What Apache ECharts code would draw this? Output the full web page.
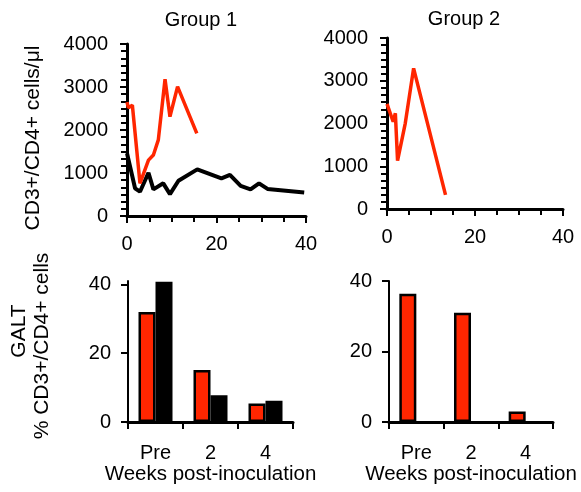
<!DOCTYPE html>
<html>
<head>
<meta charset="utf-8">
<script src="https://cdn.jsdelivr.net/npm/echarts@6/dist/echarts.min.js"></script>
<style>
html, body { margin: 0; padding: 0; background: #fff; }
#wrap { position: relative; width: 581px; height: 492px; }
.panel { position: absolute; left: 0; top: 0; width: 581px; height: 492px; }
</style>
</head>
<body>
<div id="wrap">
  <div id="p1" class="panel"></div>
  <div id="p2" class="panel"></div>
  <div id="p3" class="panel"></div>
  <div id="p4" class="panel"></div>
</div>
<script>
// blood CD4 counts, [week, cells/ul]
const g1RedPts = [[0, 2650], [0.3, 2520], [1.2, 2575], [2.9, 760], [4.8, 1300], [5.9, 1420], [7.0, 1770], [8.5, 3180], [9.6, 2310], [11.3, 3010], [15.6, 1920]];
const g1BlackPts = [[0, 1460], [1.8, 645], [2.9, 565], [4.8, 1005], [5.9, 620], [8.1, 760], [9.6, 510], [11.5, 820], [15.7, 1085], [21.1, 875], [23, 955], [25.4, 700], [27.6, 620], [29.5, 760], [31.4, 630], [39.6, 545]];
const g2RedPts = [[0, 2460], [1.4, 2040], [1.9, 2240], [2.4, 1130], [4.15, 2005], [6.05, 3290], [13.3, 330]];

// GALT %
const barCats = ['Pre', '2', '4'];
const g1RedBars = [32, 15.1, 5.4];
const g1BlackBars = [40.8, 7.8, 6.2];
const g2RedBars = [36.4, 31, 3];
const g2BlackBars = [null, null, null];

const RED = '#ff2600';
const FONT = 'Liberation Sans, Arial, sans-serif';
const FS = 20;

// one instance per panel, stacked over the same area
function axisLine(w) {
    return { show: true, lineStyle: { color: '#000', width: w } };
}
function axisTick() {
    return { show: true, length: 7, lineStyle: { color: '#000', width: 2 } };
}
function minor(n) {
    return { show: true, splitNumber: n, length: 6, lineStyle: { color: '#000', width: 2 } };
}
function label(m) {
    return { color: '#000', fontFamily: FONT, fontSize: FS, margin: m, formatter: (v) => String(v) };
}
// no split lines drawn: keep them but fully transparent
function noSplit() {
    return { lineStyle: { opacity: 0 } };
}
const txt = { color: '#000', fontSize: FS, fontFamily: FONT, fontWeight: 'normal' };

function weekAxis() {
    return {
        type: 'value', min: 0, max: 40, interval: 20,
        axisLine: axisLine(3), axisTick: axisTick(), minorTick: minor(4),
        splitLine: noSplit(),
        axisLabel: label(18)
    };
}
function countAxis() {
    return {
        type: 'value', min: 0, max: 4000, interval: 1000,
        axisLine: axisLine(3), axisTick: axisTick(), minorTick: minor(6),
        splitLine: noSplit(),
        axisLabel: label(19)
    };
}
function catAxis() {
    return {
        type: 'category', data: barCats,
        axisLine: axisLine(3), axisTick: axisTick(),
        axisLabel: { color: '#000', fontFamily: FONT, fontSize: FS, margin: 21, interval: 0 },
        name: 'Weeks post-inoculation', nameLocation: 'middle', nameGap: 38,
        nameTextStyle: { color: '#000', fontSize: 20.5, fontFamily: FONT }
    };
}
function pctAxis() {
    return {
        type: 'value', min: 0, max: 40, interval: 20,
        axisLine: axisLine(2), axisTick: axisTick(),
        splitLine: noSplit(),
        axisLabel: label(17)
    };
}
function line(data, color, w) {
    return { type: 'line', data: data, symbol: 'none', lineStyle: { color: color, width: w } };
}
function bars(data, color) {
    return {
        type: 'bar', data: data, barWidth: 17, barGap: '0%',
        itemStyle: { color: color, borderColor: '#000', borderWidth: 2.5 }
    };
}
function vtext(x, y, s) {
    return { type: 'text', x: x, y: y, rotation: Math.PI / 2,
        style: { text: s, fill: '#000', fontSize: 21, fontFamily: FONT, textAlign: 'center', textVerticalAlign: 'middle' } };
}
function draw(id, option) {
    const myChart = echarts.init(document.getElementById(id));
    myChart.setOption(Object.assign({ animation: false }, option));
}

draw('p1', {
    title: { text: 'Group 1', left: 196, top: 5, textAlign: 'center', textStyle: txt },
    grid: { left: 127, top: 44, width: 179, height: 172 },
    xAxis: weekAxis(),
    yAxis: countAxis(),
    graphic: [vtext(33, 138, 'CD3+/CD4+ cells/μl')],
    series: [line(g1BlackPts, '#000', 4), line(g1RedPts, RED, 3.5)]
});
draw('p2', {
    title: { text: 'Group 2', left: 459, top: 4, textAlign: 'center', textStyle: txt },
    grid: { left: 387, top: 38, width: 176, height: 171 },
    xAxis: weekAxis(),
    yAxis: countAxis(),
    series: [line(g2RedPts, RED, 3.5)]
});
draw('p3', {
    grid: { left: 128, top: 281, width: 165, height: 141 },
    xAxis: catAxis(),
    yAxis: Object.assign(pctAxis(), { max: 41 }),
    graphic: [vtext(19, 331, 'GALT'), vtext(42, 346, '% CD3+/CD4+ cells')],
    series: [bars(g1RedBars, RED), bars(g1BlackBars, '#000')]
});
draw('p4', {
    grid: { left: 389, top: 281, width: 164, height: 141 },
    xAxis: catAxis(),
    yAxis: pctAxis(),
    series: [bars(g2RedBars, RED), bars(g2BlackBars, '#000')]
});
</script>
</body>
</html>
